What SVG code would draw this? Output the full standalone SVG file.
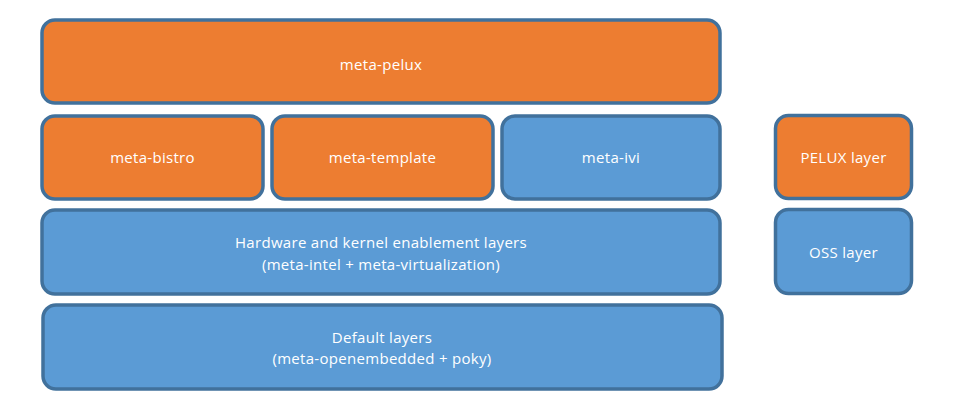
<svg xmlns="http://www.w3.org/2000/svg" width="960" height="418" viewBox="0 0 960 418">
<style>
.box{stroke:#41719C;stroke-width:3.5}
.o{fill:#ED7D31}
.b{fill:#5B9BD5}
text{font-family:"Open Sans","Liberation Sans",sans-serif;font-size:15px;letter-spacing:0.3px;fill:#FFFFFF;text-anchor:middle}
</style>
<rect width="960" height="418" fill="#FFFFFF"/>
<g id="meta-pelux"><rect class="box o" x="42" y="20" width="678" height="83" rx="13"/><text x="381" y="70">meta-pelux</text></g>
<g id="meta-bistro"><rect class="box o" x="42" y="116" width="221" height="83" rx="13"/><text x="152.5" y="163">meta-bistro</text></g>
<g id="meta-template"><rect class="box o" x="272" y="116" width="221" height="83" rx="13"/><text x="382.5" y="163">meta-template</text></g>
<g id="meta-ivi"><rect class="box b" x="502" y="116" width="218" height="83" rx="13"/><text x="611" y="163">meta-ivi</text></g>
<g id="hardware"><rect class="box b" x="42" y="210" width="678" height="84" rx="13"/><text x="381" y="248">Hardware and kernel enablement layers</text><text x="381" y="270">(meta-intel + meta-virtualization)</text></g>
<g id="default"><rect class="box b" x="43" y="305" width="679" height="84" rx="13"/><text x="382" y="343">Default layers</text><text x="382" y="364">(meta-openembedded + poky)</text></g>
<g id="pelux-layer"><rect class="box o" x="775.5" y="115.5" width="136" height="83" rx="13"/><text x="843.5" y="163">PELUX layer</text></g>
<g id="oss-layer"><rect class="box b" x="775.5" y="209.5" width="136" height="84" rx="13"/><text x="843.5" y="258">OSS layer</text></g>
<g id="connectors"/>
</svg>
